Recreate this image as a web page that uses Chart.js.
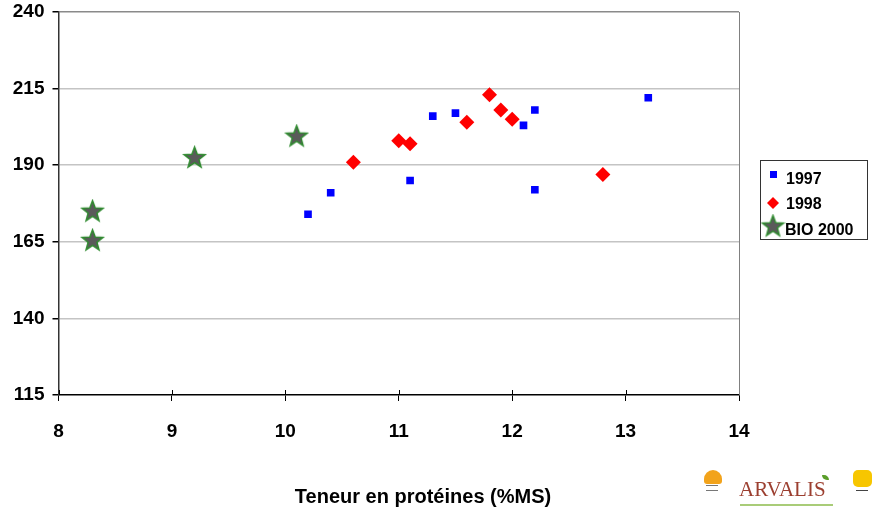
<!DOCTYPE html>
<html><head><meta charset="utf-8">
<script src="https://cdn.jsdelivr.net/npm/chart.js@4.4.0/dist/chart.umd.min.js"></script>
<style>
html,body{margin:0;padding:0;background:#fff;}
#wrap{position:relative;width:874px;height:513px;overflow:hidden;background:#fff;}
canvas{display:block;}
.arv{position:absolute;left:739px;top:479px;font-family:"Liberation Serif","DejaVu Serif",serif;font-size:21px;line-height:1;color:#9c3f30;}
.arvline{position:absolute;left:740px;top:504px;width:93px;height:2px;background:#a9cc78;}
.leaf{position:absolute;left:822px;top:475px;width:7px;height:5px;background:#5a9e2a;border-radius:0 6px 0 6px;}
.orange{position:absolute;left:704px;top:470px;width:18px;height:14px;background:#f2a31b;border-radius:9px 9px 3px 3px;}
.orange2{position:absolute;left:706px;top:485px;width:12px;height:4px;border-top:1px solid #777;border-bottom:1px solid #777;}
.yellow{position:absolute;left:853px;top:470px;width:19px;height:17px;background:#f7c600;border-radius:5px;}
.yellow2{position:absolute;left:856px;top:490px;width:12px;height:1px;background:#444;}
</style></head>
<body><div id="wrap"><canvas id="c" width="874" height="513"></canvas>
<div class="orange"></div><div class="orange2"></div>
<div class="arv">ARVALIS</div><div class="leaf"></div><div class="arvline"></div>
<div class="yellow"></div><div class="yellow2"></div>
</div>
<script>
// ---- data ----
const x1997 = [10.2, 10.4, 11.1, 11.3, 11.5, 12.1, 12.2, 12.2, 13.2];
const y1997 = [174, 181, 185, 206, 207, 203, 208, 182, 212];
const x1998 = [10.6, 11.0, 11.1, 11.6, 11.8, 11.9, 12.0, 12.8];
const y1998 = [191, 198, 197, 204, 213, 208, 205, 187];
const xBio = [8.3, 8.3, 9.2, 10.1];
const yBio = [175, 165.5, 192.5, 199.5];
const seriesNames = ['1997', '1998', 'BIO 2000'];
const xTicks = [8, 9, 10, 11, 12, 13, 14];
const yTicks = [115, 140, 165, 190, 215, 240];
const xTitle = 'Teneur en protéines (%MS)';

const pts = (xs, ys) => xs.map((x, i) => ({x: x, y: ys[i]}));

function makeStar(size) {
  const c = document.createElement('canvas');
  c.width = size; c.height = size;
  const g = c.getContext('2d');
  const cx = size / 2, cy = size / 2 + 0.5, R = size / 2 - 1.5, r = R * 0.42;
  g.beginPath();
  for (let i = 0; i < 10; i++) {
    const a = -Math.PI / 2 + i * Math.PI / 5;
    const rad = i % 2 === 0 ? R : r;
    const px = cx + rad * Math.cos(a), py = cy + rad * Math.sin(a);
    if (i === 0) g.moveTo(px, py); else g.lineTo(px, py);
  }
  g.closePath();
  g.fillStyle = '#5a5a5a';
  g.fill();
  g.lineWidth = 1.5;
  g.strokeStyle = '#2e8a2e';
  g.stroke();
  return c;
}
const starImg = makeStar(25);

const FONT = '"Liberation Sans", Arial, sans-serif';

const extras = {
  id: 'extras',
  afterDraw(chart) {
    const ctx = chart.ctx;
    const xs = chart.scales.x;
    const area = chart.chartArea;
    ctx.save();
    // ticks crossing inside the axis
    ctx.strokeStyle = '#000'; ctx.lineWidth = 1;
    xTicks.forEach(v => {
      const px = Math.round(xs.getPixelForValue(v)) + 0.5;
      ctx.beginPath(); ctx.moveTo(px, area.bottom - 5); ctx.lineTo(px, area.bottom); ctx.stroke();
    });
    // right border
    ctx.strokeStyle = '#808080';
    const rx = Math.round(area.right) + 0.5;
    ctx.beginPath(); ctx.moveTo(rx, area.top); ctx.lineTo(rx, area.bottom); ctx.stroke();
    // x title
    ctx.fillStyle = '#000';
    ctx.font = 'bold 20px ' + FONT;
    ctx.textAlign = 'center'; ctx.textBaseline = 'middle';
    ctx.fillText(xTitle, 423, 497);
    // legend
    ctx.fillStyle = '#fff';
    ctx.fillRect(760.5, 160.5, 107, 79);
    ctx.strokeStyle = '#333'; ctx.lineWidth = 1;
    ctx.strokeRect(760.5, 160.5, 107, 79);
    ctx.font = 'bold 16px ' + FONT;
    ctx.textAlign = 'left'; ctx.fillStyle = '#000';
    // 1997
    ctx.fillStyle = '#0000ff';
    ctx.fillRect(770, 171, 7, 7);
    ctx.fillStyle = '#000';
    ctx.fillText(seriesNames[0], 786, 180);
    // 1998
    ctx.fillStyle = '#ff0000';
    ctx.beginPath();
    ctx.moveTo(773, 197); ctx.lineTo(779, 203); ctx.lineTo(773, 209); ctx.lineTo(767, 203); ctx.closePath();
    ctx.fill();
    ctx.fillStyle = '#000';
    ctx.fillText(seriesNames[1], 786, 205);
    // BIO 2000
    ctx.drawImage(starImg, 773 - 12.5, 226 - 12.5);
    ctx.fillStyle = '#000';
    ctx.fillText(seriesNames[2], 785, 231);
    ctx.restore();
  }
};

new Chart(document.getElementById('c'), {
  type: 'scatter',
  data: {
    datasets: [
      {label: seriesNames[0], data: pts(x1997, y1997), pointStyle: 'rect', pointRadius: 5.4,
       backgroundColor: '#0000ff', borderColor: '#0000ff', borderWidth: 0, pointHoverRadius: 5.4},
      {label: seriesNames[1], data: pts(x1998, y1998), pointStyle: 'rectRot', pointRadius: 7.5,
       backgroundColor: '#ff0000', borderColor: '#ff0000', borderWidth: 0, pointHoverRadius: 7.5},
      {label: seriesNames[2], data: pts(xBio, yBio), pointStyle: starImg, pointRadius: 11,
       backgroundColor: '#5a5a5a', borderColor: '#2e8a2e'}
    ]
  },
  options: {
    responsive: false,
    animation: false,
    devicePixelRatio: 1,
    layout: {padding: {left: 0, right: 135, top: 9.3, bottom: 0}},
    plugins: {legend: {display: false}, tooltip: {enabled: false}},
    scales: {
      x: {
        type: 'linear', min: 8, max: 14,
        afterBuildTicks: s => { s.ticks = xTicks.map(v => ({value: v})); },
        afterFit: s => { s.height = 118; s.paddingLeft = 0; s.paddingRight = 0; },
        ticks: {color: '#000', font: {family: FONT, size: 19, weight: 'bold'}, padding: 19, maxRotation: 0,
                callback: v => String(v)},
        grid: {drawOnChartArea: false, tickLength: 6, tickColor: '#000', color: '#000', lineWidth: 1},
        border: {display: true, color: '#000', width: 1.5}
      },
      y: {
        type: 'linear', min: 115, max: 240,
        afterBuildTicks: s => { s.ticks = yTicks.map(v => ({value: v})); },
        afterFit: s => { s.width = 58.5; s.paddingTop = 0; s.paddingBottom = 0; },
        ticks: {color: '#000', font: {family: FONT, size: 19, weight: 'bold'}, padding: 8,
                callback: v => String(v)},
        grid: {tickLength: 6, tickColor: '#000',
               color: c => (c.tick && c.tick.value === 240) ? '#8a8a8a' : (c.tick && c.tick.value === 115 ? 'rgba(0,0,0,0)' : '#c4c4c4'),
               lineWidth: 1.5},
        border: {display: true, color: '#333', width: 1.5}
      }
    }
  },
  plugins: [extras]
});
</script>
</body></html>
